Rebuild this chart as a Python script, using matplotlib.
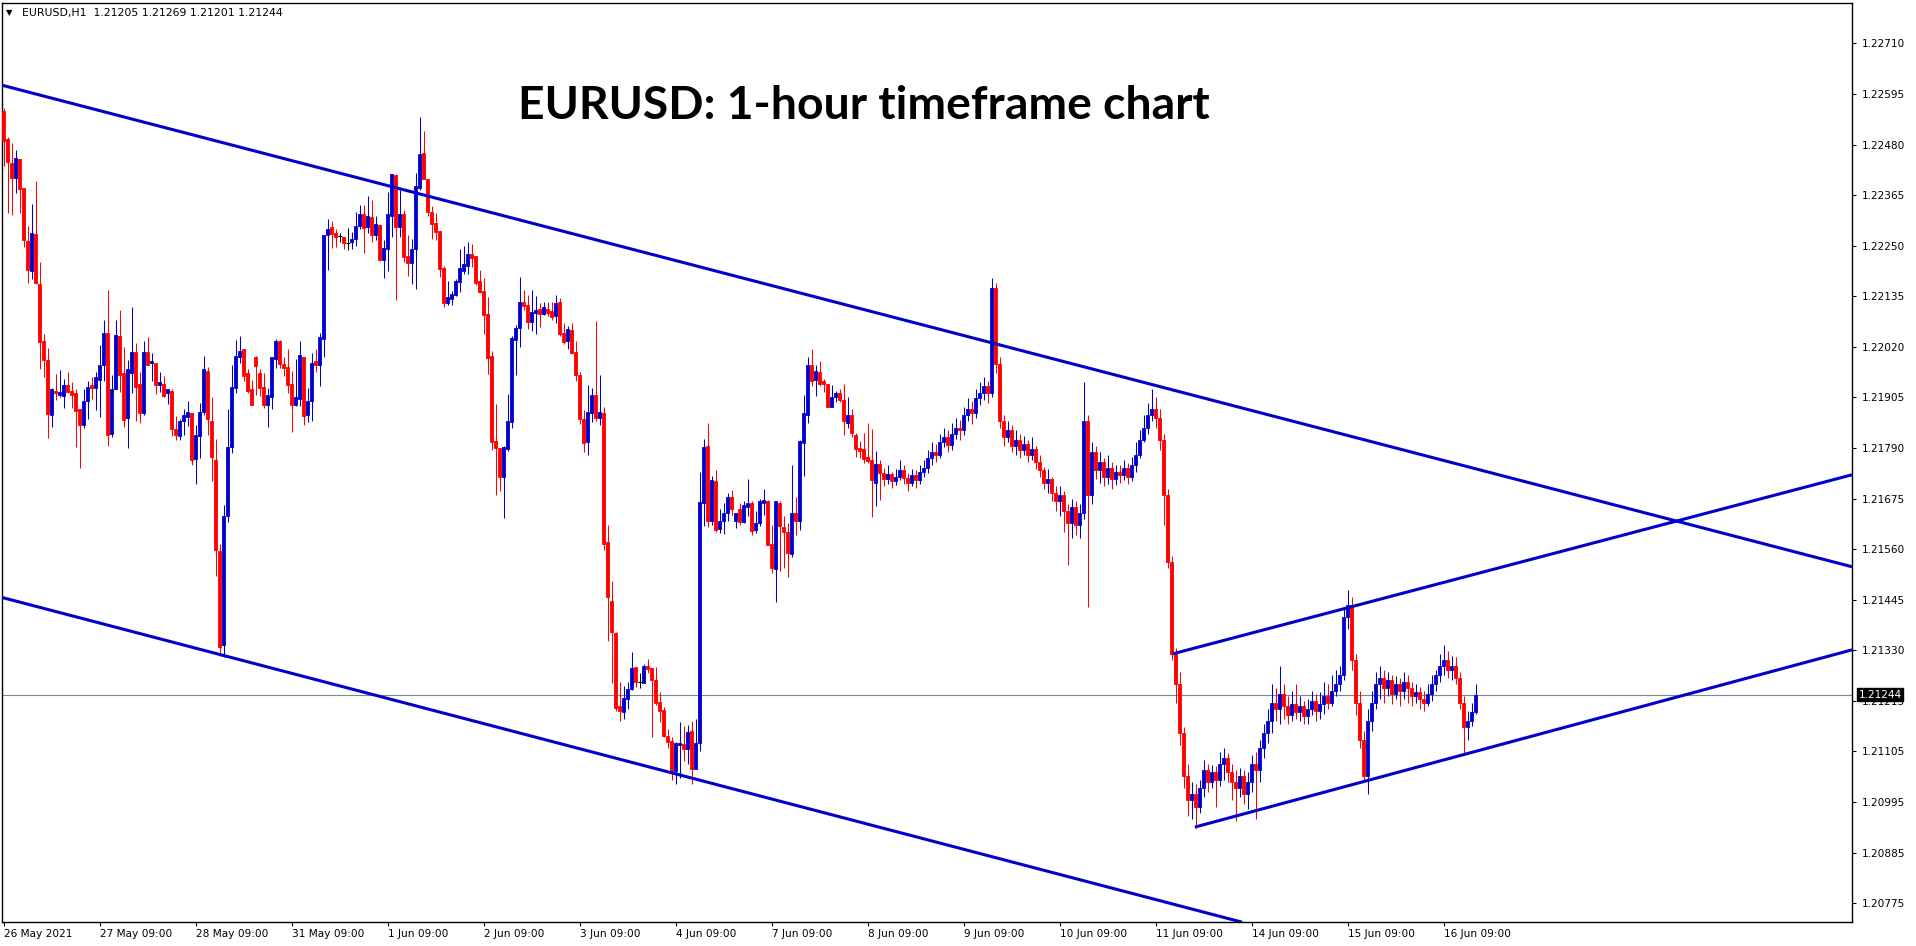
import numpy as np
import matplotlib
matplotlib.use("Agg")
import matplotlib.pyplot as plt
import matplotlib.transforms as mtransforms

# EURUSD H1 bars, prices in points (1e-5)
open_pts = [
    122557, 122494, 122441, 122408, 122450, 122385, 122266, 122197, 122282, 122169,
    122041, 121998, 121873, 121928, 121919, 121916, 121942, 121928, 121922, 121886,
    121850, 121906, 121940, 121934, 121952, 121985, 122059, 121830, 121933, 122052,
    121967, 121866, 121969, 122016, 121944, 121877, 122016, 121990, 121991, 121942,
    121944, 121922, 121928, 121843, 121826, 121859, 121870, 121879, 121774, 121826,
    121881, 121973, 121859, 121773, 121567, 121355, 121646, 121801, 121935, 122005,
    122021, 121967, 121931, 122005, 121969, 121937, 121895, 121915, 122000, 122039,
    121989, 121982, 121944, 121895, 121909, 122005, 121873, 121904, 121994, 121987,
    122044, 122278, 122297, 122284, 122276, 122275, 122261, 122264, 122270, 122300,
    122327, 122297, 122320, 122279, 122302, 122223, 122248, 122322, 122414, 122297,
    122327, 122232, 122216, 122248, 122385, 122464, 122405, 122331, 122306, 122288,
    122205, 122126, 122135, 122144, 122173, 122198, 122209, 122236, 122232, 122175,
    122153, 122101, 122007, 121815, 121800, 121734, 121797, 121858, 122043, 122070,
    122128, 122121, 122083, 122103, 122112, 122101, 122112, 122108, 122097, 122128,
    122058, 122040, 122065, 122016, 121964, 121865, 121812, 121877, 121919, 121867,
    121879, 121588, 121456, 121382, 121218, 121205, 121235, 121257, 121307, 121273,
    121271, 121308, 121304, 121276, 121228, 121210, 121152, 121139, 121072, 121131,
    121133, 121121, 121163, 121077, 121135, 121676, 121804, 121634, 121725, 121618,
    121635, 121652, 121688, 121634, 121663, 121632, 121666, 121676, 121614, 121631,
    121675, 121681, 121584, 121526, 121676, 121622, 121611, 121560, 121652, 121634,
    121811, 121874, 121985, 121952, 121971, 121949, 121944, 121892, 121913, 121922,
    121908, 121856, 121874, 121829, 121800, 121796, 121780, 121773, 121721, 121764,
    121743, 121729, 121740, 121724, 121735, 121749, 121732, 121721, 121738, 121727,
    121746, 121754, 121776, 121790, 121784, 121812, 121823, 121806, 121831, 121845,
    121840, 121873, 121886, 121878, 121911, 121922, 121939, 121922, 122159, 121988,
    121859, 121823, 121840, 121804, 121817, 121795, 121809, 121784, 121798, 121768,
    121749, 121721, 121729, 121699, 121680, 121694, 121658, 121630, 121666, 121625,
    121652, 121859, 121694, 121790, 121749, 121768, 121735, 121754, 121729, 121746,
    121738, 121754, 121735, 121762, 121784, 121817, 121845, 121873, 121886, 121867,
    121817, 121694, 121542, 121336, 121267, 121157, 121061, 121006, 121020, 120992,
    121033, 121075, 121047, 121069, 121053, 121088, 121102, 121069, 121047, 121033,
    121061, 121020, 121047, 121088, 121075, 121124, 121157, 121185, 121226, 121212,
    121245, 121218, 121198, 121223, 121204, 121218, 121196, 121212, 121229, 121207,
    121223, 121240, 121226, 121253, 121267, 121289, 121419, 121446, 121322, 121226,
    121143, 121061, 121185, 121226, 121267, 121281, 121259, 121278, 121245, 121267,
    121253, 121273, 121259, 121240, 121251, 121234, 121226, 121245, 121267, 121289,
    121308, 121322, 121300, 121308, 121281, 121226, 121171, 121185, 121205,
]
high_pts = [
    122564, 122500, 122486, 122470, 122450, 122385, 122298, 122349, 122401, 122217,
    122057, 122024, 121935, 121965, 121974, 121955, 121971, 121947, 121931, 121886,
    121931, 121949, 121960, 121971, 122030, 122087, 122154, 121963, 122087, 122111,
    122026, 121997, 122117, 122036, 121971, 122041, 122050, 122012, 121991, 121971,
    121962, 121933, 121931, 121872, 121865, 121888, 121904, 121879, 121850, 121901,
    122007, 121982, 121913, 121819, 121583, 121670, 121888, 121987, 122043, 122052,
    122023, 121978, 121953, 122007, 121978, 121967, 121935, 122003, 122045, 122043,
    122005, 122023, 121973, 122000, 122039, 122005, 121935, 122014, 122021, 122059,
    122279, 122315, 122311, 122293, 122284, 122275, 122295, 122286, 122331, 122347,
    122347, 122367, 122358, 122322, 122304, 122268, 122376, 122417, 122417, 122381,
    122336, 122279, 122270, 122419, 122545, 122513, 122405, 122345, 122329, 122288,
    122209, 122175, 122153, 122180, 122248, 122255, 122262, 122258, 122232, 122200,
    122182, 122139, 122018, 121899, 121800, 121804, 121921, 122052, 122076, 122184,
    122155, 122144, 122155, 122142, 122126, 122128, 122128, 122128, 122144, 122137,
    122081, 122074, 122081, 122040, 121971, 121885, 121940, 121935, 122085, 121964,
    121892, 121625, 121500, 121386, 121273, 121263, 121273, 121341, 121307, 121293,
    121314, 121324, 121304, 121307, 121251, 121216, 121167, 121149, 121138, 121183,
    121173, 121176, 121184, 121190, 121745, 121820, 121856, 121737, 121750, 121661,
    121676, 121697, 121705, 121654, 121676, 121679, 121730, 121679, 121658, 121685,
    121708, 121683, 121625, 121679, 121679, 121647, 121630, 121762, 121688, 121818,
    121919, 122005, 122021, 121987, 121994, 121955, 121944, 121942, 121928, 121931,
    121944, 121913, 121886, 121834, 121814, 121834, 121856, 121841, 121793, 121773,
    121754, 121762, 121746, 121751, 121773, 121760, 121743, 121751, 121749, 121762,
    121773, 121795, 121812, 121809, 121831, 121845, 121840, 121856, 121867, 121862,
    121892, 121911, 121906, 121933, 121947, 121958, 121950, 122181, 122170, 122005,
    121873, 121859, 121851, 121840, 121831, 121826, 121817, 121823, 121804, 121784,
    121757, 121751, 121735, 121713, 121713, 121702, 121674, 121685, 121680, 121674,
    121947, 121873, 121812, 121804, 121790, 121776, 121784, 121768, 121762, 121762,
    121773, 121765, 121779, 121812, 121840, 121873, 121900, 121933, 121914, 121886,
    121831, 121707, 121556, 121350, 121295, 121171, 121088, 121047, 121042, 121053,
    121097, 121088, 121086, 121083, 121116, 121124, 121113, 121088, 121075, 121080,
    121075, 121069, 121108, 121116, 121143, 121179, 121212, 121267, 121259, 121308,
    121267, 121240, 121253, 121267, 121240, 121229, 121234, 121253, 121245, 121251,
    121273, 121267, 121289, 121300, 121308, 121438, 121479, 121465, 121336, 121253,
    121163, 121212, 121253, 121295, 121308, 121300, 121295, 121289, 121286, 121281,
    121295, 121289, 121273, 121267, 121262, 121253, 121267, 121289, 121300, 121336,
    121355, 121342, 121330, 121328, 121295, 121240, 121207, 121226, 121269,
]
low_pts = [
    122433, 122328, 122323, 122374, 122328, 122251, 122171, 122180, 122169, 121976,
    121958, 121821, 121846, 121907, 121913, 121889, 121922, 121889, 121801, 121754,
    121844, 121864, 121910, 121884, 121868, 121949, 121803, 121823, 121931, 121925,
    121846, 121799, 121922, 121859, 121855, 121873, 121987, 121949, 121920, 121925,
    121913, 121898, 121826, 121817, 121817, 121829, 121849, 121760, 121718, 121776,
    121873, 121828, 121724, 121511, 121331, 121328, 121632, 121787, 121924, 121990,
    121951, 121924, 121895, 121919, 121916, 121890, 121847, 121888, 121980, 121980,
    121962, 121924, 121835, 121893, 121893, 121850, 121857, 121859, 121971, 121938,
    122005, 122201, 122250, 122252, 122264, 122248, 122246, 122248, 122255, 122293,
    122239, 122284, 122264, 122268, 122220, 122183, 122198, 122275, 122133, 122275,
    122219, 122187, 122169, 122158, 122381, 122405, 122322, 122270, 122268, 122185,
    122117, 122121, 122121, 122142, 122151, 122191, 122191, 122207, 122166, 122148,
    122056, 121966, 121795, 121694, 121703, 121642, 121793, 121845, 121964, 122027,
    122110, 122067, 122062, 122056, 122072, 122099, 122097, 122088, 122081, 122052,
    122034, 122022, 122011, 121950, 121854, 121791, 121784, 121857, 121859, 121850,
    121570, 121364, 121270, 121208, 121184, 121190, 121212, 121254, 121262, 121258,
    121271, 121293, 121148, 121221, 121183, 121149, 121124, 121052, 121043, 121056,
    121095, 121089, 121043, 121076, 121118, 121623, 121621, 121625, 121611, 121607,
    121605, 121636, 121649, 121619, 121625, 121630, 121646, 121603, 121607, 121623,
    121648, 121580, 121517, 121452, 121522, 121529, 121508, 121553, 121603, 121614,
    121737, 121855, 121938, 121916, 121938, 121925, 121891, 121891, 121902, 121902,
    121828, 121844, 121823, 121780, 121776, 121765, 121765, 121643, 121668, 121683,
    121713, 121718, 121710, 121716, 121727, 121718, 121702, 121713, 121710, 121718,
    121735, 121743, 121762, 121768, 121776, 121801, 121790, 121795, 121820, 121817,
    121829, 121859, 121853, 121867, 121897, 121908, 121900, 121914, 121969, 121845,
    121804, 121812, 121790, 121784, 121776, 121784, 121768, 121773, 121751, 121735,
    121707, 121699, 121680, 121658, 121647, 121611, 121537, 121597, 121603, 121597,
    121639, 121441, 121674, 121729, 121721, 121713, 121718, 121707, 121716, 121721,
    121727, 121718, 121724, 121746, 121776, 121812, 121831, 121859, 121845, 121795,
    121625, 121529, 121322, 121226, 121130, 121033, 120970, 120965, 120944, 120978,
    121014, 121025, 121033, 120992, 121039, 121053, 121047, 121006, 120959, 121014,
    120998, 120987, 121025, 120965, 121047, 121102, 121135, 121157, 121185, 121179,
    121190, 121179, 121185, 121190, 121185, 121179, 121179, 121198, 121185, 121190,
    121201, 121212, 121218, 121240, 121253, 121278, 121391, 121300, 121198, 121124,
    121047, 121020, 121163, 121212, 121234, 121226, 121240, 121223, 121234, 121218,
    121234, 121226, 121218, 121226, 121212, 121207, 121218, 121229, 121253, 121273,
    121289, 121281, 121278, 121267, 121212, 121110, 121143, 121174, 121201,
]
close_pts = [
    122491, 122442, 122408, 122452, 122383, 122268, 122199, 122283, 122171, 122037,
    121998, 121875, 121931, 121922, 121926, 121942, 121926, 121919, 121882, 121850,
    121906, 121937, 121935, 121958, 121985, 122059, 121828, 121933, 122054, 121963,
    121862, 121976, 122016, 121936, 121877, 122016, 121987, 121996, 121942, 121947,
    121917, 121931, 121841, 121828, 121859, 121874, 121881, 121773, 121829, 121881,
    121976, 121864, 121778, 121569, 121351, 121647, 121802, 121937, 122007, 122018,
    121962, 121928, 121897, 121983, 121935, 121895, 121919, 122003, 122041, 121989,
    121980, 121940, 121897, 121913, 122008, 121871, 121906, 121991, 121985, 122050,
    122279, 122293, 122282, 122275, 122276, 122260, 122261, 122270, 122300, 122327,
    122295, 122321, 122279, 122304, 122223, 122250, 122327, 122417, 122297, 122327,
    122230, 122216, 122248, 122390, 122462, 122405, 122331, 122304, 122286, 122203,
    122126, 122139, 122146, 122175, 122205, 122214, 122236, 122227, 122171, 122151,
    122099, 122002, 121813, 121800, 121734, 121802, 121860, 122047, 122070, 122128,
    122119, 122083, 122106, 122110, 122101, 122117, 122103, 122094, 122126, 122056,
    122038, 122067, 122013, 121964, 121865, 121811, 121881, 121919, 121867, 121881,
    121584, 121465, 121386, 121215, 121207, 121237, 121257, 121304, 121273, 121273,
    121308, 121302, 121276, 121226, 121208, 121152, 121137, 121072, 121136, 121135,
    121122, 121161, 121077, 121136, 121678, 121802, 121634, 121728, 121614, 121635,
    121653, 121690, 121661, 121652, 121632, 121670, 121676, 121612, 121631, 121679,
    121683, 121582, 121529, 121679, 121623, 121610, 121562, 121652, 121634, 121816,
    121879, 121987, 121949, 121973, 121944, 121944, 121892, 121915, 121922, 121907,
    121859, 121874, 121832, 121798, 121793, 121774, 121769, 121728, 121764, 121743,
    121729, 121740, 121724, 121735, 121749, 121732, 121721, 121738, 121727, 121746,
    121754, 121776, 121790, 121784, 121812, 121823, 121806, 121831, 121845, 121840,
    121873, 121886, 121878, 121911, 121922, 121939, 121922, 122159, 121988, 121859,
    121823, 121840, 121804, 121817, 121795, 121809, 121784, 121798, 121768, 121749,
    121721, 121729, 121699, 121680, 121694, 121658, 121630, 121666, 121625, 121652,
    121859, 121694, 121790, 121749, 121768, 121735, 121754, 121729, 121746, 121738,
    121754, 121735, 121762, 121784, 121817, 121845, 121873, 121886, 121867, 121817,
    121694, 121542, 121336, 121267, 121157, 121061, 121006, 121020, 120992, 121033,
    121075, 121047, 121069, 121053, 121088, 121102, 121069, 121047, 121033, 121061,
    121020, 121047, 121088, 121075, 121124, 121157, 121185, 121226, 121212, 121245,
    121218, 121198, 121223, 121204, 121218, 121196, 121212, 121229, 121207, 121223,
    121240, 121226, 121253, 121267, 121289, 121419, 121446, 121322, 121226, 121143,
    121061, 121185, 121226, 121267, 121281, 121259, 121278, 121245, 121267, 121253,
    121273, 121259, 121240, 121251, 121234, 121226, 121245, 121267, 121289, 121308,
    121322, 121300, 121308, 121281, 121226, 121171, 121185, 121205, 121244,
]

time_labels = ['26 May 2021', '27 May 09:00', '28 May 09:00', '31 May 09:00', '1 Jun 09:00',
               '2 Jun 09:00', '3 Jun 09:00', '4 Jun 09:00', '7 Jun 09:00', '8 Jun 09:00',
               '9 Jun 09:00', '10 Jun 09:00', '11 Jun 09:00', '14 Jun 09:00', '15 Jun 09:00',
               '16 Jun 09:00']
bars_per_label = 24

price_labels = ['1.22710', '1.22595', '1.22480', '1.22365', '1.22250', '1.22135', '1.22020',
                '1.21905', '1.21790', '1.21675', '1.21560', '1.21445', '1.21330', '1.21215',
                '1.21105', '1.20995', '1.20885', '1.20775']
last_price = 1.21244

# hand drawn trend lines, (bar, price) at each end
trend_lines = [
    [(-0.9, 1.22617), (462.1, 1.21532)],
    [(-0.9, 1.21464), (309.6, 1.20732)],
    [(292.3, 1.21336), (462.1, 1.21739)],
    [(297.8, 1.20946), (462.1, 1.21345)],
]

BULL = '#0000CD'
BEAR = '#FF0000'

o = np.array(open_pts) / 1e5
h = np.array(high_pts) / 1e5
l = np.array(low_pts) / 1e5
c = np.array(close_pts) / 1e5
x = np.arange(len(o))

fig = plt.figure(figsize=(19.16, 9.46), dpi=100)
ax = fig.add_axes([2 / 1916, 24 / 946, 1850 / 1916, 919 / 946])

cols = np.where(c > o, BULL, np.where(c < o, BEAR, 'black'))
ax.vlines(x, l, h, colors=cols, linewidth=0.75, zorder=2)
ax.bar(x, np.abs(c - o), bottom=np.minimum(o, c), width=0.62, color=cols,
       edgecolor=cols, linewidth=0.6, zorder=3)
doji = c == o
ax.hlines(c[doji], x[doji] - 0.5, x[doji] + 0.5, colors='black', linewidth=0.75, zorder=3)

for (x0, y0), (x1, y1) in trend_lines:
    ax.plot([x0, x1], [y0, y1], color=BULL, linewidth=2.2, solid_capstyle='butt', zorder=4)

ax.axhline(last_price, color='#778899', linewidth=0.8, zorder=1)

ax.set_xlim(-0.425, 462.1)
ax.set_ylim(1.207324, 1.228009)

ax.set_xticks(np.arange(len(time_labels)) * bars_per_label)
ax.set_xticklabels(time_labels, ha='left', fontsize=7.6)
ax.tick_params(axis='x', direction='out', length=3, width=0.8, pad=2)

ax.yaxis.tick_right()
ax.set_yticks(np.linspace(1.22710, 1.20775, len(price_labels)))
ax.set_yticklabels(price_labels, fontsize=7.6)
ax.tick_params(axis='y', direction='out', length=3, width=0.8, pad=4)

for s in ax.spines.values():
    s.set_color('black')
    s.set_linewidth(1.0)

trans = mtransforms.blended_transform_factory(ax.transAxes, ax.transData)
ax.text(1.0035, last_price, f'{last_price:.5f}', transform=trans, color='white',
        fontsize=7.6, va='center', ha='left', clip_on=False, zorder=10,
        bbox=dict(boxstyle='square,pad=0.12', fc='black', ec='black'))

fig.text(6 / 1916, 1 - 13 / 946, '\u25bc', fontsize=6, va='center', ha='left')
fig.text(22 / 1916, 1 - 13 / 946, 'EURUSD,H1  1.21205 1.21269 1.21201 1.21244',
         fontsize=7.8, va='center', ha='left')

title = fig.text(864 / 1916, 1 - 106 / 946, 'EURUSD: 1-hour timeframe chart',
                 ha='center', va='center', fontsize=30, fontweight='bold', family='Lato')
fig.canvas.draw()
w = title.get_window_extent().width
title.set_fontsize(30 * 691 / w)

fig.savefig('out.png', dpi=100, facecolor='white')
